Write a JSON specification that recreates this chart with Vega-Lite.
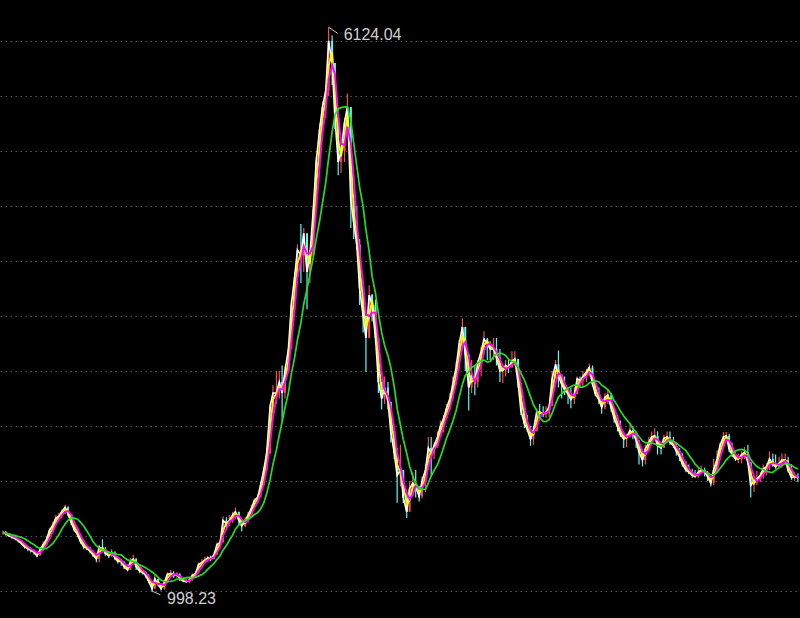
{
"$schema": "https://vega.github.io/schema/vega-lite/v6.json",
"width": 800, "height": 618,
"autosize": {"type": "fit", "contains": "padding"},
"padding": 0,
"background": "#000000",
"config": {"view": {"stroke": null}},
"datasets": {
"px": [
{"d":"2003-06-01","c":1530,"h":1550,"l":1510},
{"d":"2003-06-15","c":1520,"h":1545,"l":1505},
{"d":"2003-07-01","c":1500,"h":1525,"l":1490},
{"d":"2003-07-15","c":1490,"h":1510,"l":1475},
{"d":"2003-08-01","c":1475,"h":1495,"l":1460},
{"d":"2003-08-15","c":1455,"h":1480,"l":1440},
{"d":"2003-09-01","c":1430,"h":1460,"l":1415},
{"d":"2003-09-15","c":1400,"h":1435,"l":1385},
{"d":"2003-10-01","c":1385,"h":1405,"l":1360},
{"d":"2003-10-15","c":1370,"h":1395,"l":1350},
{"d":"2003-11-01","c":1350,"h":1375,"l":1330},
{"d":"2003-11-15","c":1320,"h":1345,"l":1307},
{"d":"2003-12-01","c":1380,"h":1400,"l":1330},
{"d":"2003-12-15","c":1420,"h":1450,"l":1380},
{"d":"2004-01-01","c":1470,"h":1497,"l":1420},
{"d":"2004-01-15","c":1550,"h":1570,"l":1480},
{"d":"2004-02-01","c":1600,"h":1630,"l":1550},
{"d":"2004-02-15","c":1660,"h":1690,"l":1600},
{"d":"2004-03-01","c":1680,"h":1710,"l":1640},
{"d":"2004-03-15","c":1720,"h":1740,"l":1660},
{"d":"2004-04-01","c":1760,"h":1783,"l":1700},
{"d":"2004-04-15","c":1700,"h":1770,"l":1680},
{"d":"2004-05-01","c":1620,"h":1700,"l":1600},
{"d":"2004-05-15","c":1560,"h":1620,"l":1540},
{"d":"2004-06-01","c":1510,"h":1580,"l":1490},
{"d":"2004-06-15","c":1450,"h":1520,"l":1430},
{"d":"2004-07-01","c":1400,"h":1460,"l":1380},
{"d":"2004-07-15","c":1390,"h":1420,"l":1370},
{"d":"2004-08-01","c":1360,"h":1400,"l":1340},
{"d":"2004-08-15","c":1330,"h":1370,"l":1310},
{"d":"2004-09-01","c":1290,"h":1340,"l":1260},
{"d":"2004-09-15","c":1400,"h":1420,"l":1259},
{"d":"2004-10-01","c":1380,"h":1470,"l":1360},
{"d":"2004-10-15","c":1340,"h":1400,"l":1320},
{"d":"2004-11-01","c":1320,"h":1360,"l":1300},
{"d":"2004-11-15","c":1350,"h":1380,"l":1310},
{"d":"2004-12-01","c":1300,"h":1360,"l":1280},
{"d":"2004-12-15","c":1270,"h":1310,"l":1250},
{"d":"2005-01-01","c":1266,"h":1290,"l":1230},
{"d":"2005-01-15","c":1220,"h":1270,"l":1200},
{"d":"2005-02-01","c":1190,"h":1240,"l":1180},
{"d":"2005-02-15","c":1270,"h":1300,"l":1190},
{"d":"2005-03-01","c":1290,"h":1330,"l":1250},
{"d":"2005-03-15","c":1220,"h":1300,"l":1190},
{"d":"2005-04-01","c":1180,"h":1230,"l":1160},
{"d":"2005-04-15","c":1170,"h":1200,"l":1150},
{"d":"2005-05-01","c":1140,"h":1180,"l":1120},
{"d":"2005-05-15","c":1090,"h":1150,"l":1070},
{"d":"2005-06-01","c":1020,"h":1070,"l":998.23},
{"d":"2005-06-15","c":1110,"h":1150,"l":1020},
{"d":"2005-07-01","c":1060,"h":1110,"l":1040},
{"d":"2005-07-15","c":1020,"h":1070,"l":1005},
{"d":"2005-08-01","c":1080,"h":1100,"l":1010},
{"d":"2005-08-15","c":1150,"h":1170,"l":1080},
{"d":"2005-09-01","c":1160,"h":1190,"l":1130},
{"d":"2005-09-15","c":1140,"h":1180,"l":1120},
{"d":"2005-10-01","c":1150,"h":1170,"l":1120},
{"d":"2005-10-15","c":1110,"h":1160,"l":1090},
{"d":"2005-11-01","c":1090,"h":1120,"l":1080},
{"d":"2005-11-15","c":1085,"h":1110,"l":1075},
{"d":"2005-12-01","c":1100,"h":1120,"l":1070},
{"d":"2005-12-15","c":1140,"h":1160,"l":1090},
{"d":"2006-01-01","c":1161,"h":1180,"l":1130},
{"d":"2006-01-15","c":1240,"h":1260,"l":1160},
{"d":"2006-02-01","c":1260,"h":1290,"l":1220},
{"d":"2006-02-15","c":1280,"h":1310,"l":1250},
{"d":"2006-03-01","c":1300,"h":1320,"l":1260},
{"d":"2006-03-15","c":1290,"h":1320,"l":1270},
{"d":"2006-04-01","c":1330,"h":1350,"l":1290},
{"d":"2006-04-15","c":1420,"h":1440,"l":1330},
{"d":"2006-05-01","c":1440,"h":1470,"l":1400},
{"d":"2006-05-15","c":1640,"h":1680,"l":1460},
{"d":"2006-06-01","c":1610,"h":1670,"l":1560},
{"d":"2006-06-15","c":1640,"h":1690,"l":1590},
{"d":"2006-07-01","c":1690,"h":1720,"l":1620},
{"d":"2006-07-15","c":1720,"h":1757,"l":1650},
{"d":"2006-08-01","c":1640,"h":1700,"l":1600},
{"d":"2006-08-15","c":1590,"h":1640,"l":1540},
{"d":"2006-09-01","c":1640,"h":1670,"l":1580},
{"d":"2006-09-15","c":1690,"h":1720,"l":1620},
{"d":"2006-10-01","c":1750,"h":1780,"l":1700},
{"d":"2006-10-15","c":1820,"h":1840,"l":1760},
{"d":"2006-11-01","c":1850,"h":1880,"l":1800},
{"d":"2006-11-15","c":1960,"h":1990,"l":1860},
{"d":"2006-12-01","c":2100,"h":2130,"l":1980},
{"d":"2006-12-15","c":2250,"h":2300,"l":2100},
{"d":"2007-01-01","c":2675,"h":2700,"l":2250},
{"d":"2007-01-15","c":2800,"h":2870,"l":2650},
{"d":"2007-02-01","c":2800,"h":3000,"l":2700},
{"d":"2007-02-15","c":2900,"h":3000,"l":2750},
{"d":"2007-03-01","c":2800,"h":3050,"l":2540},
{"d":"2007-03-15","c":3000,"h":3050,"l":2750},
{"d":"2007-04-01","c":3200,"h":3250,"l":3000},
{"d":"2007-04-15","c":3600,"h":3650,"l":3200},
{"d":"2007-05-01","c":3850,"h":3900,"l":3550},
{"d":"2007-05-15","c":4100,"h":4150,"l":3800},
{"d":"2007-06-01","c":4050,"h":4335,"l":3800},
{"d":"2007-06-15","c":4250,"h":4300,"l":3900},
{"d":"2007-07-01","c":3900,"h":4250,"l":3560},
{"d":"2007-07-15","c":4050,"h":4100,"l":3800},
{"d":"2007-08-01","c":4470,"h":4500,"l":4050},
{"d":"2007-08-15","c":4900,"h":4950,"l":4450},
{"d":"2007-09-01","c":5200,"h":5250,"l":4850},
{"d":"2007-09-15","c":5400,"h":5450,"l":5100},
{"d":"2007-10-01","c":5550,"h":5600,"l":5300},
{"d":"2007-10-15","c":6000,"h":6124.04,"l":5500},
{"d":"2007-11-01","c":5800,"h":6050,"l":5600},
{"d":"2007-11-15","c":5300,"h":5600,"l":5200},
{"d":"2007-12-01","c":4900,"h":5300,"l":4780},
{"d":"2007-12-15","c":5000,"h":5100,"l":4800},
{"d":"2008-01-01","c":5260,"h":5300,"l":4900},
{"d":"2008-01-15","c":5400,"h":5522,"l":5200},
{"d":"2008-02-01","c":4550,"h":5100,"l":4300},
{"d":"2008-02-15","c":4350,"h":4600,"l":4200},
{"d":"2008-03-01","c":4150,"h":4500,"l":4100},
{"d":"2008-03-15","c":3750,"h":4200,"l":3600},
{"d":"2008-04-01","c":3500,"h":3800,"l":3350},
{"d":"2008-04-15","c":3300,"h":3450,"l":2990},
{"d":"2008-05-01","c":3690,"h":3780,"l":3300},
{"d":"2008-05-15","c":3600,"h":3700,"l":3450},
{"d":"2008-06-01","c":3300,"h":3650,"l":3250},
{"d":"2008-06-15","c":2900,"h":3200,"l":2800},
{"d":"2008-07-01","c":2750,"h":2900,"l":2650},
{"d":"2008-07-15","c":2850,"h":2950,"l":2700},
{"d":"2008-08-01","c":2720,"h":2900,"l":2650},
{"d":"2008-08-15","c":2450,"h":2700,"l":2350},
{"d":"2008-09-01","c":2250,"h":2400,"l":2200},
{"d":"2008-09-15","c":2050,"h":2300,"l":1802},
{"d":"2008-10-01","c":2100,"h":2330,"l":1950},
{"d":"2008-10-15","c":1850,"h":2050,"l":1800},
{"d":"2008-11-01","c":1720,"h":1900,"l":1664},
{"d":"2008-11-15","c":1930,"h":2000,"l":1720},
{"d":"2008-12-01","c":1980,"h":2080,"l":1860},
{"d":"2008-12-15","c":1950,"h":2100,"l":1850},
{"d":"2009-01-01","c":1860,"h":1950,"l":1814},
{"d":"2009-01-15","c":2000,"h":2040,"l":1840},
{"d":"2009-02-01","c":2100,"h":2150,"l":1900},
{"d":"2009-02-15","c":2300,"h":2400,"l":2100},
{"d":"2009-03-01","c":2250,"h":2400,"l":2040},
{"d":"2009-03-15","c":2320,"h":2350,"l":2200},
{"d":"2009-04-01","c":2400,"h":2450,"l":2300},
{"d":"2009-04-15","c":2500,"h":2550,"l":2400},
{"d":"2009-05-01","c":2570,"h":2600,"l":2440},
{"d":"2009-05-15","c":2660,"h":2700,"l":2560},
{"d":"2009-06-01","c":2750,"h":2800,"l":2650},
{"d":"2009-06-15","c":2880,"h":2950,"l":2800},
{"d":"2009-07-01","c":3030,"h":3080,"l":2900},
{"d":"2009-07-15","c":3230,"h":3280,"l":3000},
{"d":"2009-08-01","c":3400,"h":3478,"l":3300},
{"d":"2009-08-15","c":3150,"h":3300,"l":3000},
{"d":"2009-09-01","c":2850,"h":3000,"l":2640},
{"d":"2009-09-15","c":2950,"h":3100,"l":2800},
{"d":"2009-10-01","c":2900,"h":3050,"l":2780},
{"d":"2009-10-15","c":3070,"h":3100,"l":2850},
{"d":"2009-11-01","c":3180,"h":3220,"l":2950},
{"d":"2009-11-15","c":3290,"h":3360,"l":3150},
{"d":"2009-12-01","c":3250,"h":3300,"l":3100},
{"d":"2009-12-15","c":3200,"h":3270,"l":3100},
{"d":"2010-01-01","c":3200,"h":3300,"l":3100},
{"d":"2010-01-15","c":3120,"h":3300,"l":3050},
{"d":"2010-02-01","c":3000,"h":3200,"l":2900},
{"d":"2010-02-15","c":3010,"h":3050,"l":2890},
{"d":"2010-03-01","c":3050,"h":3100,"l":2950},
{"d":"2010-03-15","c":3030,"h":3100,"l":2980},
{"d":"2010-04-01","c":3090,"h":3180,"l":3050},
{"d":"2010-04-15","c":3110,"h":3180,"l":3050},
{"d":"2010-05-01","c":2890,"h":3100,"l":2850},
{"d":"2010-05-15","c":2640,"h":2850,"l":2600},
{"d":"2010-06-01","c":2520,"h":2700,"l":2480},
{"d":"2010-06-15","c":2470,"h":2600,"l":2450},
{"d":"2010-07-01","c":2380,"h":2500,"l":2319},
{"d":"2010-07-15","c":2460,"h":2500,"l":2330},
{"d":"2010-08-01","c":2630,"h":2660,"l":2450},
{"d":"2010-08-15","c":2620,"h":2700,"l":2580},
{"d":"2010-09-01","c":2610,"h":2680,"l":2580},
{"d":"2010-09-15","c":2620,"h":2680,"l":2570},
{"d":"2010-10-01","c":2680,"h":2700,"l":2580},
{"d":"2010-10-15","c":2930,"h":3000,"l":2700},
{"d":"2010-11-01","c":3060,"h":3100,"l":2950},
{"d":"2010-11-15","c":2950,"h":3186,"l":2850},
{"d":"2010-12-01","c":2880,"h":2950,"l":2750},
{"d":"2010-12-15","c":2830,"h":2950,"l":2780},
{"d":"2011-01-01","c":2790,"h":2850,"l":2700},
{"d":"2011-01-15","c":2740,"h":2850,"l":2660},
{"d":"2011-02-01","c":2790,"h":2850,"l":2700},
{"d":"2011-02-15","c":2930,"h":2950,"l":2800},
{"d":"2011-03-01","c":2910,"h":2950,"l":2850},
{"d":"2011-03-15","c":2950,"h":3000,"l":2850},
{"d":"2011-04-01","c":2990,"h":3020,"l":2900},
{"d":"2011-04-15","c":3030,"h":3067,"l":2950},
{"d":"2011-05-01","c":2880,"h":3050,"l":2860},
{"d":"2011-05-15","c":2790,"h":2900,"l":2770},
{"d":"2011-06-01","c":2740,"h":2850,"l":2700},
{"d":"2011-06-15","c":2670,"h":2750,"l":2610},
{"d":"2011-07-01","c":2760,"h":2800,"l":2650},
{"d":"2011-07-15","c":2780,"h":2830,"l":2700},
{"d":"2011-08-01","c":2660,"h":2800,"l":2630},
{"d":"2011-08-15","c":2570,"h":2650,"l":2530},
{"d":"2011-09-01","c":2490,"h":2600,"l":2450},
{"d":"2011-09-15","c":2420,"h":2550,"l":2400},
{"d":"2011-10-01","c":2380,"h":2450,"l":2300},
{"d":"2011-10-15","c":2400,"h":2430,"l":2307},
{"d":"2011-11-01","c":2460,"h":2530,"l":2400},
{"d":"2011-11-15","c":2430,"h":2500,"l":2380},
{"d":"2011-12-01","c":2370,"h":2450,"l":2300},
{"d":"2011-12-15","c":2260,"h":2350,"l":2150},
{"d":"2012-01-01","c":2190,"h":2250,"l":2132},
{"d":"2012-01-15","c":2290,"h":2330,"l":2150},
{"d":"2012-02-01","c":2350,"h":2400,"l":2280},
{"d":"2012-02-15","c":2400,"h":2450,"l":2340},
{"d":"2012-03-01","c":2410,"h":2478,"l":2380},
{"d":"2012-03-15","c":2320,"h":2450,"l":2240},
{"d":"2012-04-01","c":2300,"h":2350,"l":2240},
{"d":"2012-04-15","c":2390,"h":2420,"l":2300},
{"d":"2012-05-01","c":2400,"h":2450,"l":2350},
{"d":"2012-05-15","c":2350,"h":2450,"l":2330},
{"d":"2012-06-01","c":2320,"h":2400,"l":2300},
{"d":"2012-06-15","c":2270,"h":2350,"l":2230},
{"d":"2012-07-01","c":2220,"h":2300,"l":2180},
{"d":"2012-07-15","c":2150,"h":2250,"l":2130},
{"d":"2012-08-01","c":2100,"h":2180,"l":2080},
{"d":"2012-08-15","c":2080,"h":2150,"l":2060},
{"d":"2012-09-01","c":2050,"h":2110,"l":2030},
{"d":"2012-09-15","c":2040,"h":2100,"l":2029},
{"d":"2012-10-01","c":2080,"h":2120,"l":2030},
{"d":"2012-10-15","c":2100,"h":2140,"l":2060},
{"d":"2012-11-01","c":2080,"h":2120,"l":2040},
{"d":"2012-11-15","c":2040,"h":2090,"l":2000},
{"d":"2012-12-01","c":1980,"h":2030,"l":1949},
{"d":"2012-12-15","c":2100,"h":2200,"l":1960},
{"d":"2013-01-01","c":2200,"h":2280,"l":2150},
{"d":"2013-01-15","c":2320,"h":2350,"l":2250},
{"d":"2013-02-01","c":2400,"h":2444,"l":2330},
{"d":"2013-02-15","c":2410,"h":2444,"l":2380},
{"d":"2013-03-01","c":2290,"h":2430,"l":2260},
{"d":"2013-03-15","c":2240,"h":2350,"l":2220},
{"d":"2013-04-01","c":2200,"h":2280,"l":2180},
{"d":"2013-04-15","c":2200,"h":2250,"l":2160},
{"d":"2013-05-01","c":2240,"h":2270,"l":2160},
{"d":"2013-05-15","c":2260,"h":2310,"l":2200},
{"d":"2013-06-01","c":2170,"h":2330,"l":2150},
{"d":"2013-06-15","c":1960,"h":2150,"l":1849},
{"d":"2013-07-01","c":2000,"h":2050,"l":1900},
{"d":"2013-07-15","c":2020,"h":2090,"l":1960},
{"d":"2013-08-01","c":2050,"h":2080,"l":1990},
{"d":"2013-08-15","c":2110,"h":2150,"l":2020},
{"d":"2013-09-01","c":2130,"h":2160,"l":2050},
{"d":"2013-09-15","c":2200,"h":2270,"l":2100},
{"d":"2013-10-01","c":2150,"h":2250,"l":2130},
{"d":"2013-10-15","c":2130,"h":2240,"l":2110},
{"d":"2013-11-01","c":2160,"h":2220,"l":2120},
{"d":"2013-11-15","c":2190,"h":2250,"l":2120},
{"d":"2013-12-01","c":2190,"h":2250,"l":2150},
{"d":"2013-12-15","c":2100,"h":2220,"l":2080},
{"d":"2014-01-01","c":2030,"h":2150,"l":2010},
{"d":"2014-01-15","c":2040,"h":2080,"l":2000},
{"d":"2014-02-01","c":2030,"h":2070,"l":1990}
],
"lab": [
{"d":"2007-10-15","v":6124.04,"d2":"2007-11-28","v2":6070,"t":"6124.04"},
{"d":"2005-06-01","v":998.23,"d2":"2005-07-12","v2":965,"t":"998.23"}
]
},
"layer": [
{
"data": {"name": "px"},
"transform": [
{"window": [{"op": "lag", "field": "c", "as": "pc"}], "sort": [{"field": "d"}]},
{"window": [{"op": "mean", "field": "c", "as": "m2"}], "sort": [{"field": "d"}], "frame": [-1, 0]},
{"window": [{"op": "mean", "field": "c", "as": "m3"}], "sort": [{"field": "d"}], "frame": [-2, 0]},
{"window": [{"op": "mean", "field": "c", "as": "m8"}], "sort": [{"field": "d"}], "frame": [-7, 0]}
],
"encoding": {
"x": {"field": "d", "type": "temporal", "axis": null,
"scale": {"domain": [{"year": 2003, "month": 6, "date": 11}, {"year": 2014, "month": 1, "date": 18}]}}
},
"layer": [
{"mark": {"type": "rule", "strokeWidth": 1.2, "clip": true},
"encoding": {
"y": {"field": "l", "type": "quantitative",
"scale": {"domain": [754, 6372], "nice": false, "zero": false},
"axis": {"grid": true, "labels": false, "ticks": false, "domain": false, "title": null,
"values": [1000,1500,2000,2500,3000,3500,4000,4500,5000,5500,6000],
"gridColor": "#6a6a6a", "gridDash": [1.5, 3.5], "gridWidth": 1, "gridOpacity": 0.8}},
"y2": {"field": "h"},
"color": {"condition": {"test": "datum.c >= datum.pc", "value": "#ff4a4a"}, "value": "#54fcfc"}
}},
{"mark": {"type": "bar", "size": 2, "clip": true},
"encoding": {
"y": {"field": "pc", "type": "quantitative"},
"y2": {"field": "c"},
"color": {"condition": {"test": "datum.c >= datum.pc", "value": "#ff4a4a"}, "value": "#54fcfc"}
}},
{"mark": {"type": "line", "color": "#ffffff", "strokeWidth": 1.6, "clip": true},
"encoding": {"y": {"field": "c", "type": "quantitative"}}},
{"mark": {"type": "line", "color": "#ffff00", "strokeWidth": 1.8, "clip": true},
"encoding": {"y": {"field": "m2", "type": "quantitative"}}},
{"mark": {"type": "line", "color": "#ff00ff", "strokeWidth": 1.9, "clip": true},
"encoding": {"y": {"field": "m3", "type": "quantitative"}}},
{"mark": {"type": "line", "color": "#22dd22", "strokeWidth": 1.7, "clip": true},
"encoding": {"y": {"field": "m8", "type": "quantitative"}}}
]
},
{
"data": {"name": "lab"},
"encoding": {
"x": {"field": "d", "type": "temporal"}
},
"layer": [
{"mark": {"type": "rule", "color": "#c8c8c8", "strokeWidth": 1},
"encoding": {
"y": {"field": "v", "type": "quantitative"},
"x2": {"field": "d2"},
"y2": {"field": "v2"}
}},
{"mark": {"type": "text", "color": "#d0d0d0", "font": "Liberation Sans", "fontSize": 16, "align": "left", "baseline": "middle", "dx": 15, "dy": 8},
"encoding": {
"y": {"field": "v", "type": "quantitative"},
"text": {"field": "t"}
}}
]
}
]
}
